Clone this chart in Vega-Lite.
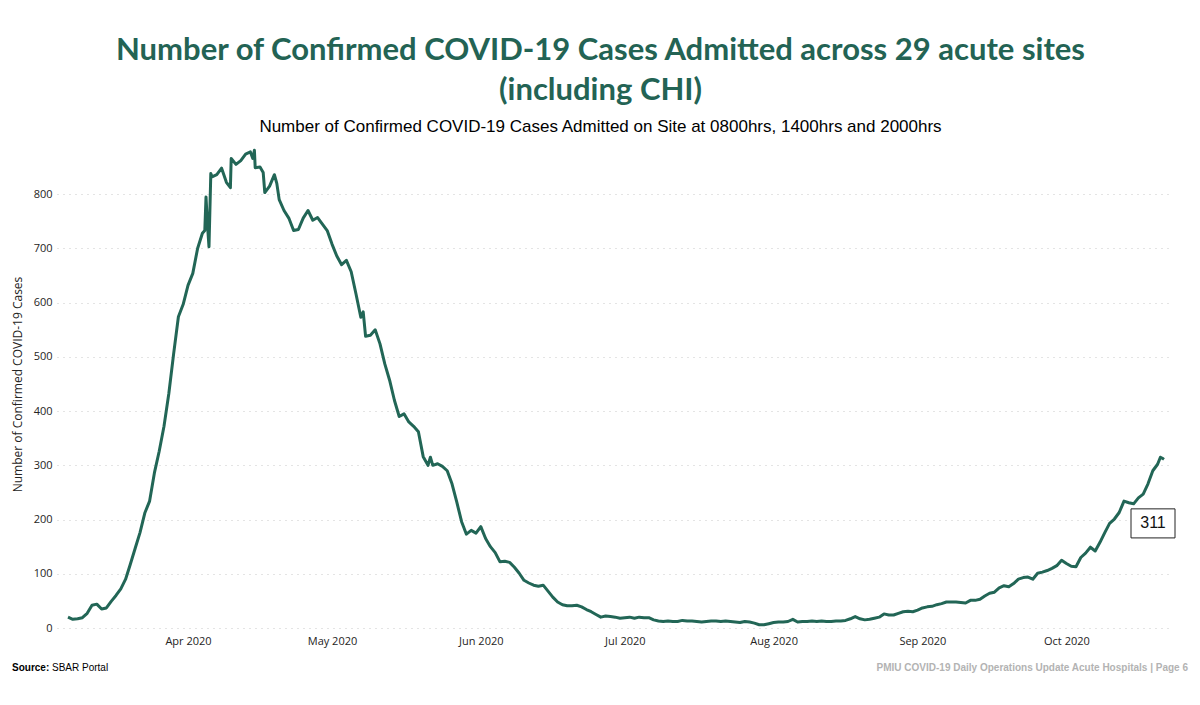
{
  "$schema": "https://vega.github.io/schema/vega-lite/v6.json",
  "autosize": {"type": "none"},
  "padding": {"left": 57, "top": 140, "right": 30, "bottom": 77},
  "width": 1113,
  "height": 488,
  "background": "white",
  "title": {
    "text": ["Number of Confirmed COVID-19 Cases Admitted across 29 acute sites", "(including CHI)"],
    "subtitle": "Number of Confirmed COVID-19 Cases Admitted on Site at 0800hrs, 1400hrs and 2000hrs",
    "font": "Lato",
    "fontSize": 31,
    "fontWeight": "bold",
    "color": "#236354",
    "lineHeight": 40,
    "subtitleFont": "Liberation Sans",
    "subtitleFontSize": 17,
    "subtitleColor": "#000000",
    "subtitlePadding": 12,
    "anchor": "middle",
    "frame": "group",
    "dx": -13,
    "offset": 4
  },
  "datasets": {
    "series": [
      {"date":"2020-03-07T00:00","cases":20},{"date":"2020-03-08T00:00","cases":16},{"date":"2020-03-09T00:00","cases":17},{"date":"2020-03-10T00:00","cases":19},{"date":"2020-03-11T00:00","cases":27},{"date":"2020-03-12T00:00","cases":42},{"date":"2020-03-13T00:00","cases":44},{"date":"2020-03-14T00:00","cases":35},{"date":"2020-03-15T00:00","cases":37},{"date":"2020-03-16T00:00","cases":49},{"date":"2020-03-17T00:00","cases":60},{"date":"2020-03-18T00:00","cases":72},{"date":"2020-03-19T00:00","cases":90},{"date":"2020-03-20T00:00","cases":118},{"date":"2020-03-21T00:00","cases":147},{"date":"2020-03-22T00:00","cases":176},{"date":"2020-03-23T00:00","cases":212},{"date":"2020-03-24T00:00","cases":234},{"date":"2020-03-25T00:00","cases":286},{"date":"2020-03-26T00:00","cases":326},{"date":"2020-03-27T00:00","cases":372},{"date":"2020-03-28T00:00","cases":432},{"date":"2020-03-29T00:00","cases":505},{"date":"2020-03-30T00:00","cases":574},{"date":"2020-03-31T00:00","cases":597},
      {"date":"2020-04-01T00:00","cases":632},{"date":"2020-04-02T00:00","cases":654},{"date":"2020-04-03T00:00","cases":700},{"date":"2020-04-04T00:00","cases":728},{"date":"2020-04-04T12:00","cases":733},{"date":"2020-04-04T18:00","cases":795},{"date":"2020-04-05T02:00","cases":740},{"date":"2020-04-05T09:00","cases":703},{"date":"2020-04-05T18:00","cases":838},{"date":"2020-04-06T00:00","cases":832},{"date":"2020-04-07T00:00","cases":836},{"date":"2020-04-08T00:00","cases":848},{"date":"2020-04-09T00:00","cases":822},{"date":"2020-04-09T20:00","cases":812},{"date":"2020-04-10T00:00","cases":866},{"date":"2020-04-11T00:00","cases":855},{"date":"2020-04-12T00:00","cases":862},{"date":"2020-04-13T00:00","cases":874},{"date":"2020-04-14T00:00","cases":878},{"date":"2020-04-14T12:00","cases":866},{"date":"2020-04-14T20:00","cases":881},{"date":"2020-04-15T00:00","cases":849},{"date":"2020-04-16T00:00","cases":850},{"date":"2020-04-16T16:00","cases":840},{"date":"2020-04-17T00:00","cases":803},{"date":"2020-04-18T00:00","cases":815},{"date":"2020-04-19T00:00","cases":836},{"date":"2020-04-19T12:00","cases":820},{"date":"2020-04-20T00:00","cases":790},{"date":"2020-04-21T00:00","cases":770},{"date":"2020-04-22T00:00","cases":756},{"date":"2020-04-23T00:00","cases":733},{"date":"2020-04-24T00:00","cases":735},{"date":"2020-04-25T00:00","cases":756},{"date":"2020-04-26T00:00","cases":770},{"date":"2020-04-27T00:00","cases":752},{"date":"2020-04-28T00:00","cases":757},{"date":"2020-04-29T00:00","cases":745},{"date":"2020-04-30T00:00","cases":733},
      {"date":"2020-05-01T00:00","cases":708},{"date":"2020-05-02T00:00","cases":686},{"date":"2020-05-03T00:00","cases":670},{"date":"2020-05-04T00:00","cases":678},{"date":"2020-05-05T00:00","cases":657},{"date":"2020-05-06T00:00","cases":616},{"date":"2020-05-07T00:00","cases":573},{"date":"2020-05-07T12:00","cases":583},{"date":"2020-05-08T00:00","cases":538},{"date":"2020-05-09T00:00","cases":540},{"date":"2020-05-10T00:00","cases":550},{"date":"2020-05-11T00:00","cases":524},{"date":"2020-05-12T00:00","cases":487},{"date":"2020-05-13T00:00","cases":457},{"date":"2020-05-14T00:00","cases":420},{"date":"2020-05-15T00:00","cases":390},{"date":"2020-05-16T00:00","cases":395},{"date":"2020-05-17T00:00","cases":380},{"date":"2020-05-18T00:00","cases":372},{"date":"2020-05-19T00:00","cases":362},{"date":"2020-05-20T00:00","cases":316},{"date":"2020-05-21T00:00","cases":300},{"date":"2020-05-21T12:00","cases":315},{"date":"2020-05-22T00:00","cases":300},{"date":"2020-05-23T00:00","cases":303},{"date":"2020-05-24T00:00","cases":298},{"date":"2020-05-25T00:00","cases":290},{"date":"2020-05-26T00:00","cases":266},{"date":"2020-05-27T00:00","cases":232},{"date":"2020-05-28T00:00","cases":196},{"date":"2020-05-29T00:00","cases":173},{"date":"2020-05-30T00:00","cases":180},{"date":"2020-05-31T00:00","cases":175},
      {"date":"2020-06-01T00:00","cases":187},{"date":"2020-06-02T00:00","cases":165},{"date":"2020-06-03T00:00","cases":150},{"date":"2020-06-04T00:00","cases":139},{"date":"2020-06-05T00:00","cases":122},{"date":"2020-06-06T00:00","cases":123},{"date":"2020-06-07T00:00","cases":121},{"date":"2020-06-08T00:00","cases":112},{"date":"2020-06-09T00:00","cases":101},{"date":"2020-06-10T00:00","cases":88},{"date":"2020-06-11T00:00","cases":83},{"date":"2020-06-12T00:00","cases":79},{"date":"2020-06-13T00:00","cases":77},{"date":"2020-06-14T00:00","cases":79},{"date":"2020-06-15T00:00","cases":68},{"date":"2020-06-16T00:00","cases":57},{"date":"2020-06-17T00:00","cases":48},{"date":"2020-06-18T00:00","cases":43},{"date":"2020-06-19T00:00","cases":41},{"date":"2020-06-20T00:00","cases":41},{"date":"2020-06-21T00:00","cases":42},{"date":"2020-06-22T00:00","cases":39},{"date":"2020-06-23T00:00","cases":34},{"date":"2020-06-24T00:00","cases":30},{"date":"2020-06-25T00:00","cases":25},{"date":"2020-06-26T00:00","cases":20},{"date":"2020-06-27T00:00","cases":22},{"date":"2020-06-28T00:00","cases":21},{"date":"2020-06-29T00:00","cases":20},{"date":"2020-06-30T00:00","cases":18},
      {"date":"2020-07-01T00:00","cases":19},{"date":"2020-07-02T00:00","cases":20},{"date":"2020-07-03T00:00","cases":18},{"date":"2020-07-04T00:00","cases":20},{"date":"2020-07-05T00:00","cases":19},{"date":"2020-07-06T00:00","cases":19},{"date":"2020-07-07T00:00","cases":15},{"date":"2020-07-08T00:00","cases":13},{"date":"2020-07-09T00:00","cases":12},{"date":"2020-07-10T00:00","cases":13},{"date":"2020-07-11T00:00","cases":12},{"date":"2020-07-12T00:00","cases":12},{"date":"2020-07-13T00:00","cases":14},{"date":"2020-07-14T00:00","cases":13},{"date":"2020-07-15T00:00","cases":13},{"date":"2020-07-16T00:00","cases":12},{"date":"2020-07-17T00:00","cases":11},{"date":"2020-07-18T00:00","cases":12},{"date":"2020-07-19T00:00","cases":13},{"date":"2020-07-20T00:00","cases":13},{"date":"2020-07-21T00:00","cases":12},{"date":"2020-07-22T00:00","cases":13},{"date":"2020-07-23T00:00","cases":12},{"date":"2020-07-24T00:00","cases":11},{"date":"2020-07-25T00:00","cases":10},{"date":"2020-07-26T00:00","cases":12},{"date":"2020-07-27T00:00","cases":11},{"date":"2020-07-28T00:00","cases":9},{"date":"2020-07-29T00:00","cases":6},{"date":"2020-07-30T00:00","cases":6},{"date":"2020-07-31T00:00","cases":8},
      {"date":"2020-08-01T00:00","cases":10},{"date":"2020-08-02T00:00","cases":11},{"date":"2020-08-03T00:00","cases":11},{"date":"2020-08-04T00:00","cases":12},{"date":"2020-08-05T00:00","cases":16},{"date":"2020-08-06T00:00","cases":11},{"date":"2020-08-07T00:00","cases":12},{"date":"2020-08-08T00:00","cases":12},{"date":"2020-08-09T00:00","cases":13},{"date":"2020-08-10T00:00","cases":12},{"date":"2020-08-11T00:00","cases":13},{"date":"2020-08-12T00:00","cases":12},{"date":"2020-08-13T00:00","cases":12},{"date":"2020-08-14T00:00","cases":13},{"date":"2020-08-15T00:00","cases":13},{"date":"2020-08-16T00:00","cases":14},{"date":"2020-08-17T00:00","cases":17},{"date":"2020-08-18T00:00","cases":21},{"date":"2020-08-19T00:00","cases":17},{"date":"2020-08-20T00:00","cases":15},{"date":"2020-08-21T00:00","cases":16},{"date":"2020-08-22T00:00","cases":18},{"date":"2020-08-23T00:00","cases":20},{"date":"2020-08-24T00:00","cases":26},{"date":"2020-08-25T00:00","cases":24},{"date":"2020-08-26T00:00","cases":24},{"date":"2020-08-27T00:00","cases":27},{"date":"2020-08-28T00:00","cases":30},{"date":"2020-08-29T00:00","cases":31},{"date":"2020-08-30T00:00","cases":30},{"date":"2020-08-31T00:00","cases":33},
      {"date":"2020-09-01T00:00","cases":37},{"date":"2020-09-02T00:00","cases":39},{"date":"2020-09-03T00:00","cases":40},{"date":"2020-09-04T00:00","cases":43},{"date":"2020-09-05T00:00","cases":45},{"date":"2020-09-06T00:00","cases":48},{"date":"2020-09-07T00:00","cases":48},{"date":"2020-09-08T00:00","cases":48},{"date":"2020-09-09T00:00","cases":47},{"date":"2020-09-10T00:00","cases":46},{"date":"2020-09-11T00:00","cases":51},{"date":"2020-09-12T00:00","cases":51},{"date":"2020-09-13T00:00","cases":53},{"date":"2020-09-14T00:00","cases":59},{"date":"2020-09-15T00:00","cases":64},{"date":"2020-09-16T00:00","cases":66},{"date":"2020-09-17T00:00","cases":74},{"date":"2020-09-18T00:00","cases":78},{"date":"2020-09-19T00:00","cases":76},{"date":"2020-09-20T00:00","cases":82},{"date":"2020-09-21T00:00","cases":90},{"date":"2020-09-22T00:00","cases":93},{"date":"2020-09-23T00:00","cases":94},{"date":"2020-09-24T00:00","cases":90},{"date":"2020-09-25T00:00","cases":101},{"date":"2020-09-26T00:00","cases":103},{"date":"2020-09-27T00:00","cases":106},{"date":"2020-09-28T00:00","cases":110},{"date":"2020-09-29T00:00","cases":115},{"date":"2020-09-30T00:00","cases":125},
      {"date":"2020-10-01T00:00","cases":119},{"date":"2020-10-02T00:00","cases":114},{"date":"2020-10-03T00:00","cases":113},{"date":"2020-10-04T00:00","cases":130},{"date":"2020-10-05T00:00","cases":138},{"date":"2020-10-06T00:00","cases":149},{"date":"2020-10-07T00:00","cases":142},{"date":"2020-10-08T00:00","cases":158},{"date":"2020-10-09T00:00","cases":176},{"date":"2020-10-10T00:00","cases":193},{"date":"2020-10-11T00:00","cases":201},{"date":"2020-10-12T00:00","cases":213},{"date":"2020-10-13T00:00","cases":234},{"date":"2020-10-14T00:00","cases":231},{"date":"2020-10-15T00:00","cases":229},{"date":"2020-10-16T00:00","cases":240},{"date":"2020-10-17T00:00","cases":247},{"date":"2020-10-18T00:00","cases":266},{"date":"2020-10-19T00:00","cases":290},{"date":"2020-10-20T00:00","cases":302},{"date":"2020-10-20T14:00","cases":315},{"date":"2020-10-21T00:00","cases":313},{"date":"2020-10-21T08:00","cases":311}
    ],
    "last": [{"date":"2020-10-21T08:00","cases":311}],
    "footer": [{"a":"Source:","b":"SBAR Portal","c":"PMIU COVID-19 Daily Operations Update Acute Hospitals |  Page 6"}]
  },
  "config": {
    "view": {"stroke": null},
    "font": "Open Sans"
  },
  "layer": [
    {
      "data": {"name": "series"},
      "mark": {"type": "line", "color": "#226656", "strokeWidth": 3, "strokeJoin": "round"},
      "encoding": {
        "x": {
          "field": "date", "type": "temporal",
          "scale": {"domain": [{"year": 2020, "month": 3, "date": 4, "hours": 17}, {"year": 2020, "month": 10, "date": 22, "hours": 14}]},
          "axis": {
            "title": null, "format": "%b %Y", "tickCount": {"interval": "month", "step": 1},
            "grid": false, "ticks": false, "domain": false, "labelPadding": 7,
            "labelFont": "Open Sans", "labelFontSize": 11, "labelColor": "#252423"
          }
        },
        "y": {
          "field": "cases", "type": "quantitative",
          "scale": {"domain": [0, 900], "nice": false},
          "axis": {
            "title": "Number of Confirmed COVID-19 Cases",
            "values": [0, 100, 200, 300, 400, 500, 600, 700, 800],
            "grid": true, "gridColor": "#c8c8c8", "gridDash": [1, 5], "gridWidth": 1,
            "ticks": false, "domain": false, "labelPadding": 5,
            "labelFont": "Open Sans", "labelFontSize": 11, "labelColor": "#252423",
            "titleFont": "Open Sans", "titleFontSize": 12, "titleFontWeight": "normal", "titleColor": "#252423",
            "titlePadding": 9
          }
        }
      }
    },
    {
      "data": {"name": "last"},
      "mark": {"type": "point", "shape": "M-1.5,2.25L0.5,2.25L0.5,3.57L-1.5,3.57Z", "size": 1936, "filled": true, "fill": "white", "stroke": "#222222", "strokeWidth": 1, "opacity": 1},
      "encoding": {
        "x": {"field": "date", "type": "temporal"},
        "y": {"field": "cases", "type": "quantitative"}
      }
    },
    {
      "data": {"name": "last"},
      "mark": {"type": "text", "dx": -11, "dy": 64, "align": "center", "baseline": "middle", "font": "Liberation Sans", "fontSize": 16, "color": "#111111"},
      "encoding": {
        "x": {"field": "date", "type": "temporal"},
        "y": {"field": "cases", "type": "quantitative"},
        "text": {"field": "cases", "type": "quantitative"}
      }
    },
    {
      "data": {"name": "footer"},
      "mark": {"type": "text", "align": "left", "baseline": "middle", "font": "Liberation Sans", "fontSize": 10, "fontWeight": "bold", "color": "#000000"},
      "encoding": {"x": {"value": -45}, "y": {"value": 528}, "text": {"field": "a"}}
    },
    {
      "data": {"name": "footer"},
      "mark": {"type": "text", "align": "left", "baseline": "middle", "font": "Liberation Sans", "fontSize": 10, "color": "#000000"},
      "encoding": {"x": {"value": -5}, "y": {"value": 528}, "text": {"field": "b"}}
    },
    {
      "data": {"name": "footer"},
      "mark": {"type": "text", "align": "right", "baseline": "middle", "font": "Liberation Sans", "fontSize": 10, "fontWeight": "bold", "color": "#b3b3b3"},
      "encoding": {"x": {"value": 1131}, "y": {"value": 528}, "text": {"field": "c"}}
    }
  ]
}
